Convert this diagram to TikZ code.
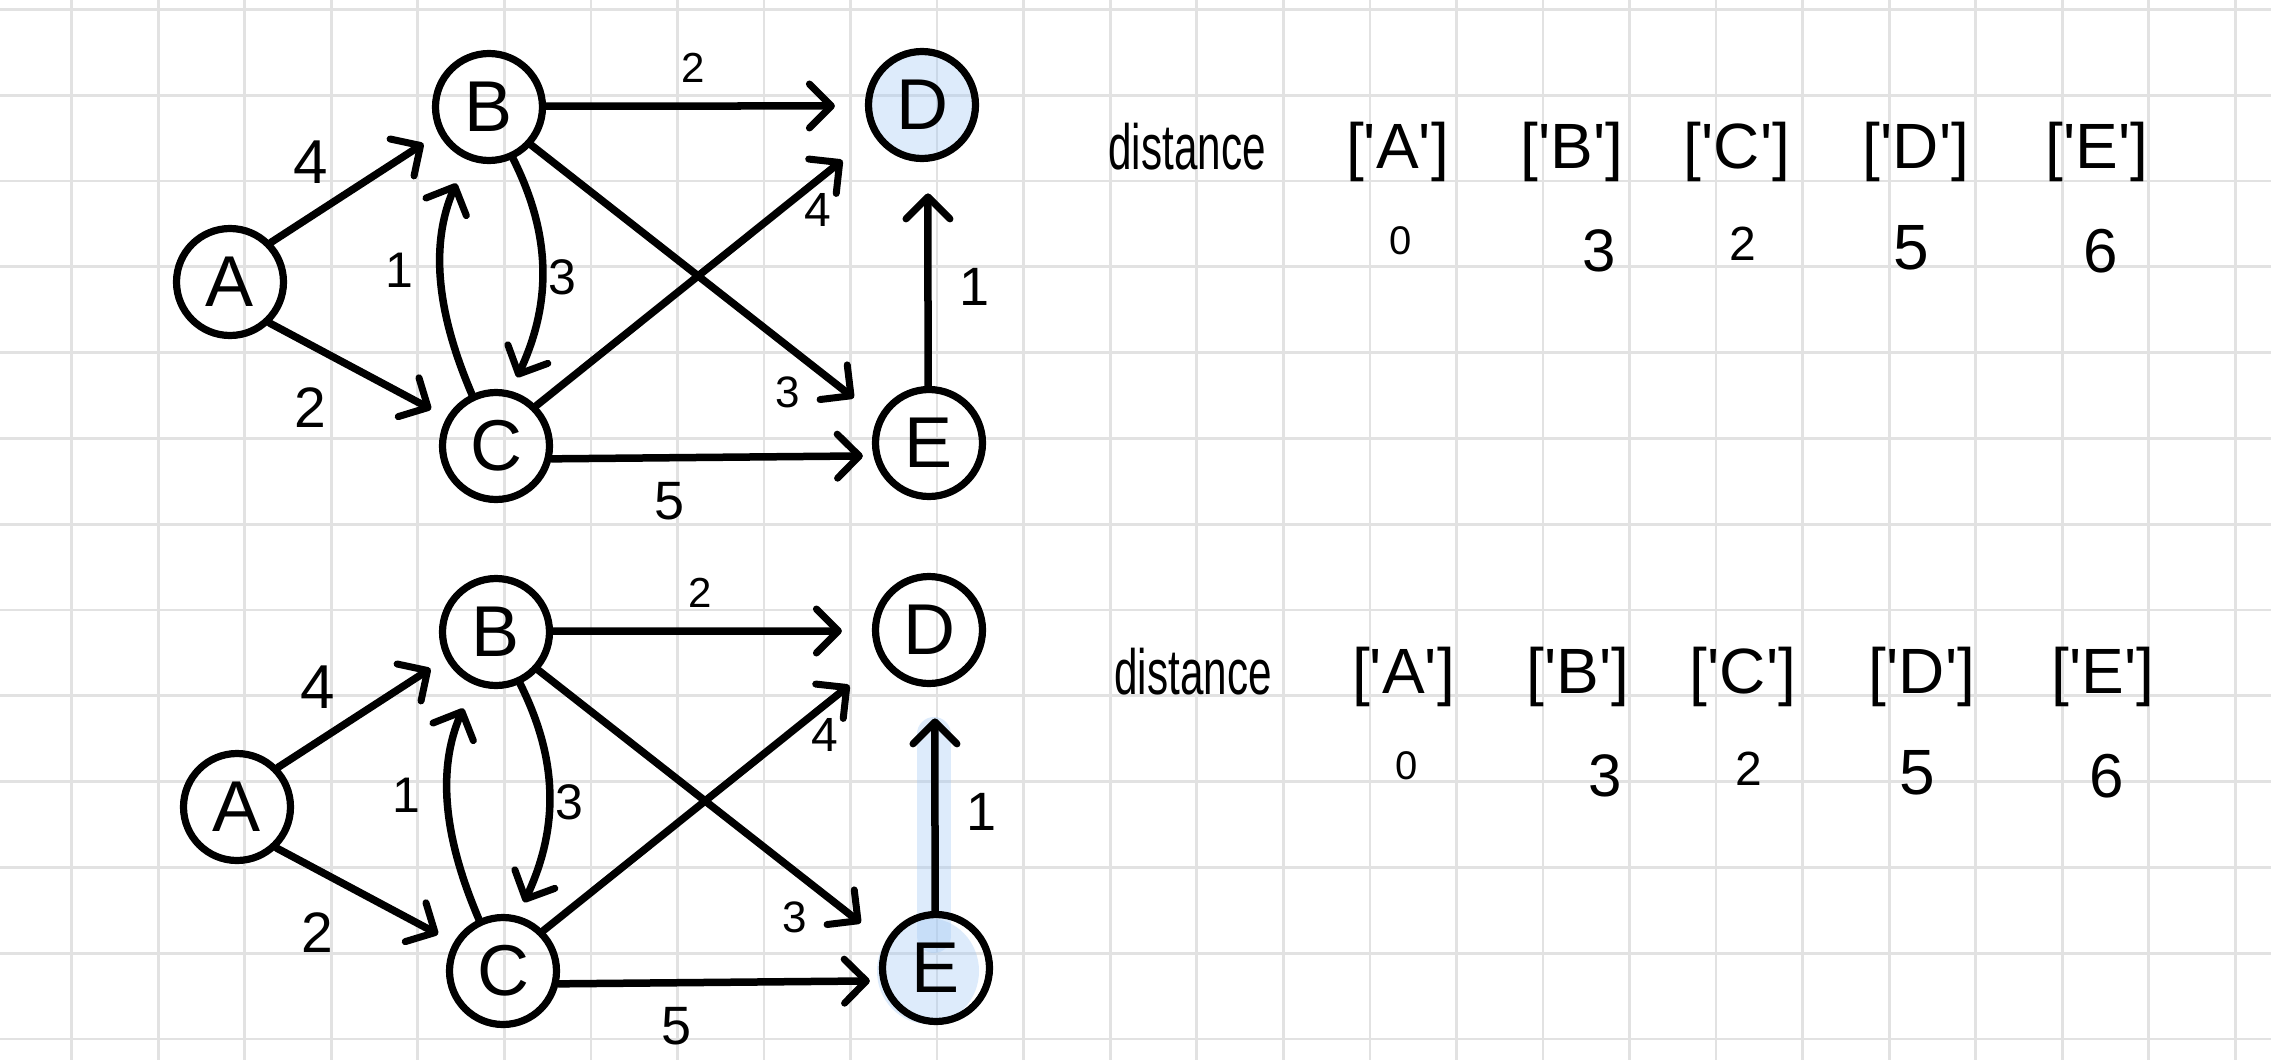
\documentclass[tikz,border=0pt]{standalone}
\usepackage{fontspec}
\setmainfont{Liberation Sans}
\usepackage{graphicx}
\usetikzlibrary{arrows.meta,calc}
\definecolor{gridgray}{RGB}{226,226,226}
\definecolor{hlc}{RGB}{160,200,245}
\newcommand{\myfs}[1]{\fontsize{#1}{#1}\selectfont}
\pgfdeclarelayer{background}
\pgfsetlayers{background,main}
\begin{document}
\begin{tikzpicture}[x=1pt,y=-1pt,
  vtx/.style={circle,draw=black,line width=7.2pt,minimum size=107pt,inner sep=0pt,font=\myfs{72}},
  edge/.style={line width=7.5pt,line cap=round,-{Straight Barb[length=22pt,width=44pt,line width=7pt,round]}},
  lbl/.style={inner sep=0pt,font=\myfs{#1}}, lbl/.default=48,
  txt/.style={inner sep=0pt,font=\myfs{#1}}, txt/.default=64,
  gridline/.style={draw=gridgray,line width=2.7pt},
  hl/.style={fill=hlc,fill opacity=0.35}]
\useasboundingbox (0,0) rectangle (2271,1060);

% ---------- the two graphs ----------
\foreach \p/\dx/\dy in {u/0/0,l/7/525}{
\begin{scope}[shift={(\dx,\dy)}]
  \node[vtx] (\p A) at (230,282) {A};
  \node[vtx] (\p B) at (489,107) {B};
  \node[vtx] (\p C) at (496,446) {C};
  \node[vtx] (\p D) at (922,105) {D};
  \node[vtx] (\p E) at (929,443) {E};
  \draw[edge,shorten >=18pt] (\p A.44) -- (\p B.208);
  \draw[edge,shorten >=17.5pt] (\p A.-46) -- (\p C.150);
  \draw[edge,shorten >=30pt] (\p B.1) -- (\p D.181);
  \draw[edge,shorten >=40pt] (\p C.45) -- (\p D.212);
  \draw[edge,shorten >=31pt] (\p B.-42) -- (\p E.153);
  \draw[edge,shorten >=10.5pt] (\p C.-13) -- (\p E.193);
  \draw[edge,shorten >=31.6pt] (\p E.91) -- (\p D.-84);
  \draw[edge,shorten >=26pt] (\p C.115) .. controls +(-30,-70) and +(-40,92) .. (\p B.247);
  \draw[edge,shorten >=15pt] (\p B.-65) .. controls +(40,80) and +(39.5,-85) .. (\p C.75);
  \node[lbl=62] (\p wAB) at (311,162) {4};
  \node[lbl=57] (\p wAC) at (310,408) {2};
  \node[lbl=42] (\p wBD) at (693,68) {2};
  \node[lbl=50] (\p wCB) at (399,270) {1};
  \node[lbl=50] (\p wBC) at (562,277) {3};
  \node[lbl=48] (\p wCD) at (817.5,210) {4};
  \node[lbl=44] (\p wBE) at (788,392) {3};
  \node[lbl=54] (\p wED) at (975,287) {1};
  \node[lbl=54] (\p wCE) at (669.5,501) {5};
\end{scope}}

% ---------- the two distance tables ----------
\foreach \p/\dx/\dy in {u/0/0,l/6/525}{
\begin{scope}[shift={(\dx,\dy)}]
  \node[txt] (\p dist) at (1187,146.5) {\scalebox{0.66}[1]{distance}};
  \node[txt] (\p kA) at (1397.5,151.7) {[\textquotesingle A\textquotesingle]};
  \node[txt] (\p kB) at (1572,151.7) {[\textquotesingle B\textquotesingle]};
  \node[txt] (\p kC) at (1737,151.7) {[\textquotesingle C\textquotesingle]};
  \node[txt] (\p kD) at (1916,151.7) {[\textquotesingle D\textquotesingle]};
  \node[txt] (\p kE) at (2097,151.7) {[\textquotesingle E\textquotesingle]};
  \node[txt=40] (\p vA) at (1401,241) {0};
  \node[txt=60] (\p vB) at (1599,251) {3};
  \node[txt=48] (\p vC) at (1743,244) {2};
  \node[txt=64] (\p vD) at (1911,247.5) {5};
  \node[txt=62] (\p vE) at (2101,251) {6};
\end{scope}}

% ---------- paper, grid and highlighter ----------
\begin{pgfonlayer}{background}
  \fill[white] (0,0) rectangle (2271,1060);
  \foreach \k in {0,...,25} \draw[gridline] ({71.6+86.55*\k},0) -- ({71.6+86.55*\k},1060);
  \foreach \k in {0,...,12} \draw[gridline] (0,{9.4+85.8*\k}) -- (2271,{9.4+85.8*\k});
  \fill[hl] (uD.center) circle[radius=54];
  \fill[hl] ($(lE.center)+(-8,3)$) ellipse[x radius=51,y radius=53];
  \draw[draw=hlc,draw opacity=0.35,line width=34pt,line cap=round] ($(lE.center)+(-2,-32)$) -- ($(lE.center)+(-2,-234)$);
\end{pgfonlayer}
\end{tikzpicture}
\end{document}
